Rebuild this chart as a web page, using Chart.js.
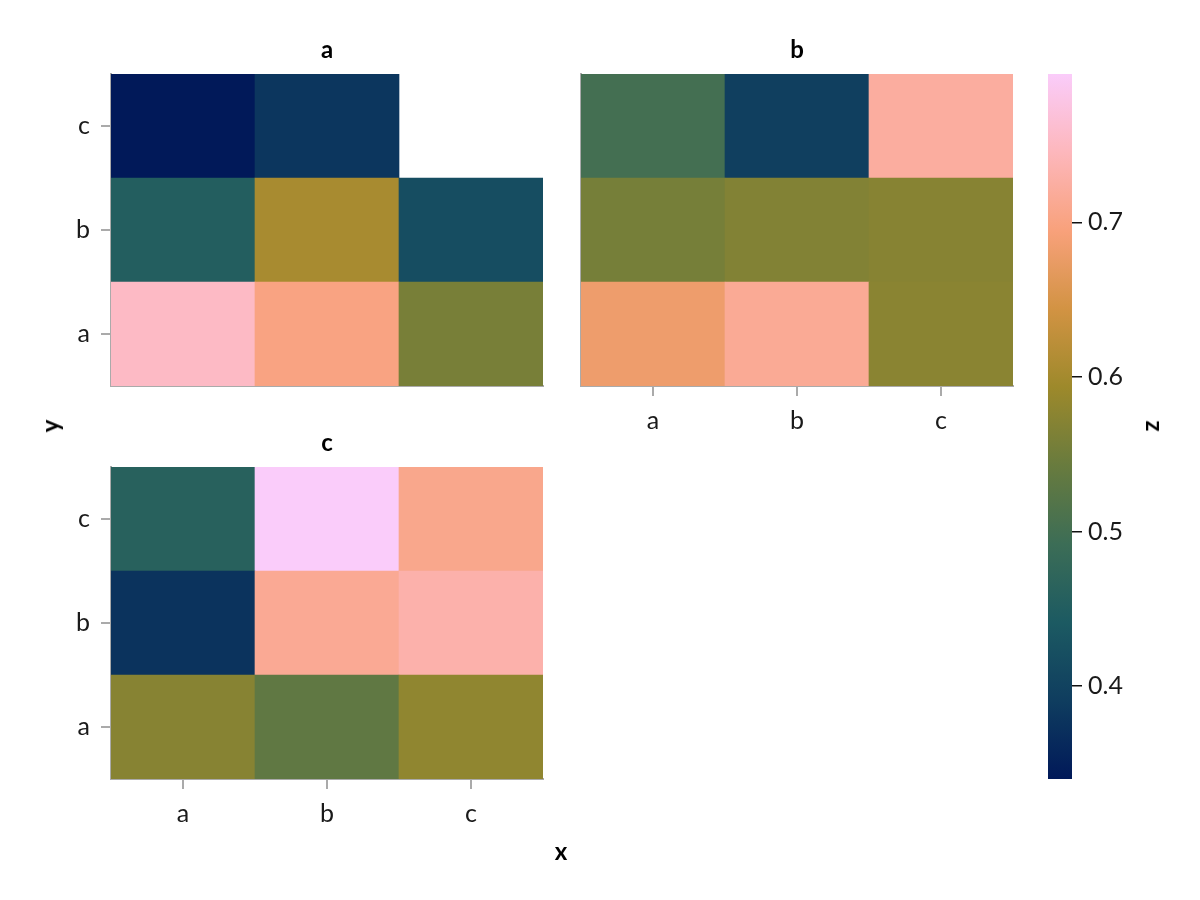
<!DOCTYPE html>
<html lang="en">
<head>
<meta charset="UTF-8">
<title>z by x and y, faceted</title>
<script src="https://cdn.jsdelivr.net/npm/chart.js"></script>
<style>
  body { margin: 0; background: #fff; }
  #wrap { position: relative; width: 1200px; height: 900px; font-family: Lato, "Open Sans", sans-serif; }
  canvas { position: absolute; }
  .lab { position: absolute; font-weight: 700; font-size: 24px; line-height: 1; color: #000; transform: translate(-50%, -50%); }
</style>
</head>
<body>
<div id="wrap">
  <canvas id="pa" width="560" height="416" style="left:0px;top:0px"></canvas>
  <canvas id="pb" width="560" height="446" style="left:470px;top:0px"></canvas>
  <canvas id="pc" width="560" height="446" style="left:0px;top:393px"></canvas>
  <canvas id="cb" width="200" height="800" style="left:1000px;top:0px"></canvas>
  <div class="lab" style="left:50px;top:426px;transform:translate(-50%,-50%) rotate(-90deg)">y</div>
  <div class="lab" style="left:561px;top:851px">x</div>
  <div class="lab" style="left:1150px;top:426px;transform:translate(-50%,-50%) rotate(-90deg)">z</div>
</div>

<script>
const xCats = ["a", "b", "c"];
const yCats = ["a", "b", "c"];
const panelNames = ["a", "b", "c"];

// z per panel: one row per y category (a, b, c), columns are x = a, b, c
const zA = [
  [0.753, 0.700, 0.558],
  [0.452, 0.604, 0.418],
  [0.340, 0.381, null]
];
const zB = [
  [0.681, 0.715, 0.575],
  [0.556, 0.568, 0.572],
  [0.501, 0.394, 0.723]
];
const zC = [
  [0.572, 0.533, 0.581],
  [0.377, 0.714, 0.732],
  [0.461, 0.796, 0.708]
];

const cbTicks = [0.4, 0.5, 0.6, 0.7];

// batlow colormap, 10 stops
const batlow = ["#011959", "#0F3D5F", "#1C5A62", "#3C6D56", "#687B3E",
                "#9D892B", "#D29343", "#F8A17B", "#FDB7BC", "#FACCFA"];

const FONT = 'Lato, "Open Sans", sans-serif';
const AX = "#aaaaaa";
const TXT = "#1a1a1a";
const TICK_SIZE = 25;

const allZ = [zA, zB, zC].flat(2).filter(v => v !== null);
const zMin = Math.min(...allZ);
const zMax = Math.max(...allZ);

function hexRgb(h) {
  return [1, 3, 5].map(i => parseInt(h.substr(i, 2), 16));
}

function colorFor(z) {
  let t = (z - zMin) / (zMax - zMin);
  t = Math.max(0, Math.min(1, t));
  const p = t * (batlow.length - 1);
  const i = Math.min(Math.floor(p), batlow.length - 2);
  const f = p - i;
  const a = hexRgb(batlow[i]), b = hexRgb(batlow[i + 1]);
  const c = a.map((v, k) => Math.round(v + (b[k] - v) * f));
  return "rgb(" + c.join(",") + ")";
}

function panelChart(id, title, z, showX, showY) {
  const datasets = yCats.map((yc, j) => ({
    label: yc,
    data: xCats.map((xc, i) => z[j][i] === null ? null : 1),
    backgroundColor: xCats.map((xc, i) => z[j][i] === null ? "rgba(0,0,0,0)" : colorFor(z[j][i])),
    barPercentage: 1,
    categoryPercentage: 1,
    borderWidth: 0
  }));

  return new Chart(document.getElementById(id), {
    type: "bar",
    data: { labels: xCats, datasets: datasets },
    options: {
      responsive: false,
      animation: false,
      layout: { padding: { top: 0, right: 17, bottom: 0, left: 0 } },
      plugins: {
        legend: { display: false },
        tooltip: { enabled: false },
        title: {
          display: true, text: title, fullSize: false, color: "#000",
          font: { family: FONT, size: 24, weight: "bold", lineHeight: 1.2 },
          padding: { top: 35.6, bottom: 9.6 }
        }
      },
      scales: {
        x: {
          stacked: true,
          offset: true,
          z: 1,
          grid: { display: true, offset: false, drawOnChartArea: false, drawTicks: showX, tickLength: 10, color: AX, lineWidth: 2 },
          border: { display: true, color: AX, width: 2 },
          ticks: { display: showX, color: TXT, font: { family: FONT, size: TICK_SIZE, weight: 400 }, padding: 10, maxRotation: 0 },
          afterFit: s => { s.height = showX ? 60 : 30; }
        },
        y: {
          stacked: true,
          min: 0,
          max: 3,
          z: 1,
          afterBuildTicks: s => { s.ticks = yCats.map((c, i) => ({ value: i + 0.5 })); },
          grid: { display: true, drawOnChartArea: false, drawTicks: showY, tickLength: 10, color: AX, lineWidth: 2 },
          border: { display: true, color: AX, width: 2 },
          ticks: {
            display: showY, color: TXT, font: { family: FONT, size: TICK_SIZE, weight: 400 }, padding: 11,
            callback: v => yCats[Math.floor(v)]
          },
          afterFit: s => { s.width = 111; }
        }
      }
    }
  });
}

panelChart("pa", panelNames[0], zA, false, true);
panelChart("pb", panelNames[1], zB, true, false);
panelChart("pc", panelNames[2], zC, true, true);

// colorbar
new Chart(document.getElementById("cb"), {
  type: "bar",
  data: {
    labels: ["z"],
    datasets: [{
      data: [[zMin, zMax]],
      backgroundColor: c => {
        const a = c.chart.chartArea;
        if (!a) return "rgba(0,0,0,0)";
        const g = c.chart.ctx.createLinearGradient(0, a.bottom, 0, a.top);
        batlow.forEach((col, i) => g.addColorStop(i / (batlow.length - 1), col));
        return g;
      },
      barPercentage: 1,
      categoryPercentage: 1,
      borderWidth: 0
    }]
  },
  options: {
    responsive: false,
    animation: false,
    layout: { padding: { left: 48, top: 74, bottom: 21, right: 48 } },
    plugins: { legend: { display: false }, tooltip: { enabled: false } },
    scales: {
      x: { display: false },
      y: {
        position: "right",
        min: zMin,
        max: zMax,
        afterBuildTicks: s => { s.ticks = cbTicks.map(v => ({ value: v })); },
        grid: { display: true, drawOnChartArea: false, drawTicks: true, tickLength: 10, color: "#111", lineWidth: 1.5 },
        border: { display: false },
        ticks: { color: TXT, font: { family: FONT, size: TICK_SIZE, weight: 400 }, padding: 6, callback: v => v.toFixed(1) },
        afterFit: s => { s.width = 80; }
      }
    }
  }
});
</script>
</body>
</html>
